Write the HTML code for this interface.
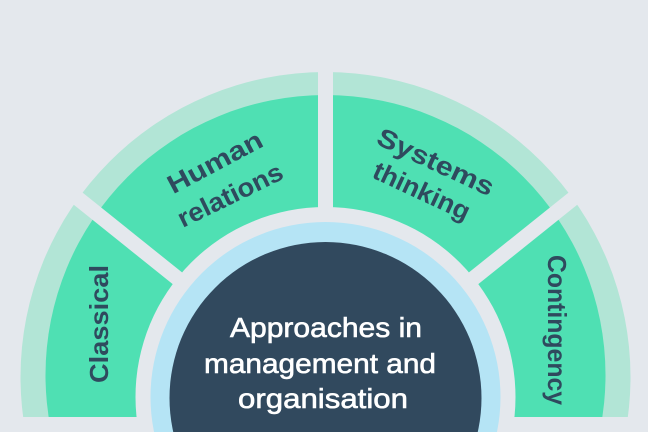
<!DOCTYPE html>
<html><head><meta charset="utf-8"><style>
html,body{margin:0;padding:0;background:#e4e8ed;width:648px;height:432px;overflow:hidden;}
svg{display:block;}
text{font-family:"Liberation Sans",sans-serif;}
</style></head><body>
<svg width="648" height="432" viewBox="0 0 648 432" xmlns="http://www.w3.org/2000/svg">
<rect width="648" height="432" fill="#e4e8ed"/>
<circle cx="325.5" cy="377" r="305" fill="#b2e5d6"/>
<circle cx="325.5" cy="375" r="280" fill="#4fe0b3"/>
<rect x="0" y="417" width="648" height="15" fill="#e4e8ed"/>
<g stroke="#e4e8ed" stroke-width="15">
<line x1="325.5" y1="397" x2="325.5" y2="40"/>
<line x1="325.5" y1="397" x2="-20" y2="120"/>
<line x1="325.5" y1="397" x2="671" y2="120"/>
</g>
<circle cx="325.5" cy="397" r="190" fill="#e4e8ed"/>
<circle cx="325.5" cy="397" r="175" fill="#b5e4f5"/>
<circle cx="325.5" cy="398" r="156" fill="#31495e"/>
<g fill="#2f4a5e" font-size="26" font-weight="bold">
<text transform="translate(108,324) rotate(-90)" text-anchor="middle" textLength="118" lengthAdjust="spacingAndGlyphs">Classical</text>
<text transform="translate(548,330) rotate(90)" text-anchor="middle" textLength="150" lengthAdjust="spacingAndGlyphs">Contingency</text>
<text transform="translate(219,170) rotate(-28)" text-anchor="middle" textLength="104" lengthAdjust="spacingAndGlyphs">Human</text>
<text transform="translate(234,203) rotate(-26)" text-anchor="middle" textLength="114" lengthAdjust="spacingAndGlyphs">relations</text>
<text transform="translate(432,170) rotate(25)" text-anchor="middle" textLength="126" lengthAdjust="spacingAndGlyphs">Systems</text>
<text transform="translate(418,199) rotate(25)" text-anchor="middle" textLength="104" lengthAdjust="spacingAndGlyphs">thinking</text>
</g>
<g fill="#ffffff" font-size="28" text-anchor="middle" stroke="#ffffff" stroke-width="0.6">
<text x="326" y="337" textLength="192" lengthAdjust="spacingAndGlyphs">Approaches in</text>
<text x="320" y="373" textLength="232" lengthAdjust="spacingAndGlyphs">management and</text>
<text x="323" y="408" textLength="170" lengthAdjust="spacingAndGlyphs">organisation</text>
</g>
</svg>
</body></html>
